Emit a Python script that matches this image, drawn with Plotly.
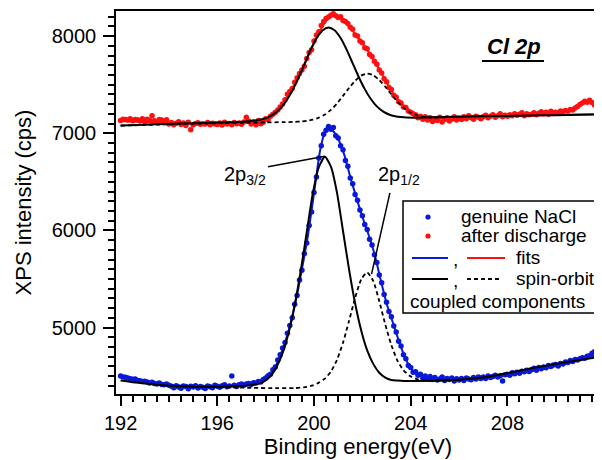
import plotly.graph_objects as go

# ---------------- data ----------------
E_START = 192.0
E_STEP = 0.1

nacl_counts = [
    4502, 4490, 4488, 4480, 4472, 4468, 4470, 4455, 4452, 4445,
    4447, 4440, 4430, 4438, 4425, 4420, 4428, 4415, 4410, 4418,
    4405, 4395, 4380, 4402, 4388, 4375, 4398, 4392, 4370, 4395,
    4388, 4400, 4378, 4392, 4385, 4372, 4398, 4390, 4380, 4405,
    4395, 4385, 4402, 4410, 4390, 4398, 4500, 4405, 4392, 4412,
    4418, 4405, 4420, 4425, 4415, 4432, 4428, 4445, 4440, 4465,
    4480, 4505, 4520, 4565, 4595, 4665, 4720, 4790, 4845, 4940,
    5020, 5100, 5240, 5330, 5490, 5590, 5760, 5870, 6050, 6190,
    6390, 6550, 6745, 6870, 6990, 7030, 7070, 7040, 7060, 6975,
    6950, 6870, 6830, 6720, 6660, 6540, 6480, 6370, 6310, 6210,
    6150, 6060, 6010, 5910, 5850, 5750, 5670, 5540, 5460, 5340,
    5260, 5165, 5110, 5015, 4955, 4860, 4810, 4720, 4680, 4610,
    4590, 4540, 4545, 4510, 4520, 4480, 4500, 4470, 4495, 4465,
    4485, 4460, 4470, 4490, 4455, 4475, 4465, 4480, 4450, 4472,
    4460, 4475, 4455, 4480, 4470, 4462, 4485, 4470, 4490, 4475,
    4490, 4475, 4500, 4485, 4495, 4510, 4490, 4505, 4450, 4515,
    4520, 4510, 4535, 4525, 4540, 4530, 4550, 4545, 4560, 4548,
    4565, 4580, 4560, 4590, 4575, 4595, 4585, 4610, 4600, 4615,
    4620, 4605, 4630, 4625, 4645, 4640, 4660, 4650, 4670, 4665,
    4680, 4690, 4685, 4705, 4710, 4735, 4750,
]

discharge_counts = [
    7130, 7145, 7140, 7135, 7150, 7128, 7142, 7138, 7125, 7148,
    7120, 7145, 7132, 7180, 7128, 7115, 7140, 7135, 7110, 7138,
    7095, 7110, 7088, 7102, 7118, 7090, 7105, 7080, 7112, 7035,
    7085, 7100, 7108, 7092, 7098, 7095, 7110, 7088, 7102, 7096,
    7090, 7105, 7085, 7112, 7095, 7100, 7088, 7110, 7098, 7104,
    7092, 7115, 7165, 7125, 7095, 7118, 7086, 7130, 7098, 7112,
    7150, 7140, 7175, 7195, 7215, 7240, 7270, 7300, 7345, 7400,
    7430, 7460, 7525, 7570, 7615, 7650, 7690, 7770, 7830, 7860,
    7950, 8010, 8045, 8110, 8150, 8180, 8195, 8215, 8230, 8210,
    8190, 8200, 8160, 8150, 8130, 8090, 8070, 8010, 8000, 7950,
    7930, 7880, 7870, 7810, 7790, 7740, 7710, 7650, 7620, 7560,
    7530, 7470, 7450, 7390, 7370, 7325, 7310, 7270, 7265, 7230,
    7215, 7200, 7190, 7160, 7175, 7145, 7170, 7135, 7160, 7120,
    7150, 7130, 7165, 7115, 7140, 7160, 7125, 7145, 7170, 7135,
    7155, 7140, 7170, 7150, 7180, 7160, 7145, 7175, 7165, 7150,
    7170, 7185, 7160, 7175, 7190, 7165, 7180, 7200, 7170, 7185,
    7175, 7190, 7180, 7200, 7185, 7195, 7210, 7180, 7200, 7190,
    7195, 7210, 7190, 7205, 7220, 7200, 7215, 7195, 7225, 7210,
    7215, 7205, 7230, 7220, 7235, 7225, 7245, 7240, 7260, 7275,
    7296, 7310, 7330, 7320, 7340, 7315, 7290, 7275,
]

nacl_energy = [round(E_START + i * E_STEP, 1) for i in range(len(nacl_counts))]
discharge_energy = [round(E_START + i * E_STEP, 1) for i in range(len(discharge_counts))]

# fit envelope, genuine NaCl
nacl_fit_e = [192.0, 192.5, 193.0, 193.5, 194.0, 194.5, 195.0, 195.5, 196.0, 196.5,
              197.0, 197.5, 197.75, 198.0, 198.25, 198.5, 198.75, 199.0, 199.25, 199.5,
              199.75, 200.0, 200.25, 200.45, 200.6, 200.8, 201.0, 201.25, 201.5, 201.75,
              202.0, 202.25, 202.5, 202.75, 203.0, 203.25, 203.5, 203.75, 204.0, 204.25,
              204.5, 205.0, 205.5, 206.0, 206.5, 207.0, 207.5, 208.0, 208.5, 209.0,
              209.5, 210.0, 210.5, 211.0, 211.5, 211.7]
nacl_fit_y = [4495, 4468, 4445, 4425, 4410, 4400, 4395, 4394, 4397, 4402,
              4410, 4425, 4440, 4470, 4530, 4650, 4810, 5010, 5280, 5600,
              5950, 6380, 6820, 7010, 7055, 7020, 6940, 6780, 6550, 6340,
              6140, 5960, 5760, 5500, 5250, 5060, 4870, 4700, 4580, 4520,
              4495, 4478, 4470, 4468, 4472, 4482, 4496, 4515, 4536, 4560,
              4585, 4610, 4637, 4668, 4700, 4714]

# 2p3/2 component, genuine NaCl
nacl_p32_e = [192.0, 192.5, 193.0, 193.5, 194.0, 194.5, 195.0, 195.5, 196.0, 196.5,
              197.0, 197.45, 197.7, 197.95, 198.2, 198.45, 198.7, 198.95, 199.2, 199.45,
              199.7, 199.95, 200.2, 200.45, 200.7, 200.95, 201.2, 201.45, 201.7, 201.95,
              202.2, 202.45, 202.7, 202.95, 203.2, 203.45, 203.7, 204.0, 205.0, 206.0,
              207.0, 208.0, 209.0, 210.0, 211.0, 211.7]
nacl_p32_y = [4455, 4438, 4424, 4412, 4402, 4395, 4391, 4390, 4391, 4394,
              4398, 4410, 4420, 4447, 4500, 4594, 4736, 4947, 5229, 5582,
              5981, 6381, 6652, 6757, 6656, 6389, 5994, 5599, 5250, 4972,
              4764, 4626, 4535, 4485, 4461, 4454, 4449, 4450, 4452, 4463,
              4485, 4530, 4580, 4625, 4665, 4695]

# 2p1/2 component, genuine NaCl
nacl_p12_e = [195.5, 196.5, 197.5, 198.5, 199.2, 199.7, 199.95, 200.2, 200.45, 200.7,
              200.95, 201.2, 201.45, 201.7, 201.95, 202.2, 202.45, 202.7, 202.95, 203.2,
              203.45, 203.7, 203.95, 204.2, 204.45, 204.7, 205.0, 206.0]
nacl_p12_y = [4390, 4384, 4379, 4376, 4377, 4389, 4404, 4433, 4475, 4547,
              4667, 4844, 5069, 5304, 5494, 5567, 5480, 5270, 5030, 4820,
              4660, 4560, 4505, 4475, 4458, 4452, 4452, 4463]

# fit envelope, after discharge
dis_fit_e = [192.0, 192.5, 193.0, 193.5, 194.0, 195.0, 196.0, 197.0, 197.5, 197.75,
             198.0, 198.25, 198.5, 198.75, 199.0, 199.25, 199.5, 199.75, 200.0, 200.25,
             200.5, 200.75, 201.0, 201.25, 201.5, 201.75, 202.0, 202.25, 202.5, 202.75,
             203.0, 203.25, 203.5, 203.75, 204.0, 204.25, 204.5, 205.0, 206.0, 207.0,
             208.0, 209.0, 210.0, 211.0, 211.7]
dis_fit_y = [7125, 7120, 7114, 7108, 7103, 7100, 7102, 7108, 7115, 7124,
             7140, 7170, 7225, 7315, 7420, 7530, 7650, 7790, 7930, 8055,
             8155, 8205, 8200, 8155, 8085, 8005, 7925, 7840, 7745, 7635,
             7525, 7420, 7330, 7265, 7220, 7190, 7175, 7167, 7170, 7174,
             7178, 7183, 7188, 7192, 7195]

# 2p3/2 component, after discharge
dis_p32_e = [192.0, 193.0, 194.0, 195.0, 196.0, 196.5, 197.1, 197.6, 197.85, 198.1,
             198.35, 198.6, 198.85, 199.1, 199.35, 199.6, 199.85, 200.1, 200.35, 200.6,
             200.85, 201.1, 201.35, 201.6, 201.85, 202.1, 202.35, 202.6, 202.85, 203.1,
             203.35, 203.6, 204.1, 205.0, 206.0, 207.0, 208.0, 209.0, 210.0, 211.0, 211.7]
dis_p32_y = [7080, 7088, 7096, 7103, 7110, 7113, 7119, 7131, 7143, 7164,
             7199, 7253, 7332, 7437, 7565, 7708, 7852, 7975, 8057, 8088,
             8060, 7980, 7860, 7719, 7579, 7454, 7352, 7276, 7225, 7193,
             7175, 7166, 7160, 7165, 7170, 7174, 7178, 7182, 7186, 7190, 7193]

# 2p1/2 component, after discharge
dis_p12_e = [192.0, 194.0, 196.0, 197.0, 198.0, 198.7, 199.2, 199.45, 199.7, 199.95,
             200.2, 200.45, 200.7, 200.95, 201.2, 201.45, 201.7, 201.95, 202.2, 202.45,
             202.7, 202.95, 203.2, 203.45, 203.7, 203.95, 204.2, 204.45, 204.7, 204.95,
             205.5, 206.0]
dis_p12_y = [7078, 7092, 7103, 7107, 7111, 7114, 7117, 7121, 7127, 7139,
             7160, 7192, 7241, 7306, 7384, 7466, 7540, 7593, 7613, 7597,
             7548, 7478, 7400, 7326, 7265, 7219, 7190, 7172, 7163, 7160,
             7167, 7170]

x_ticks = [192, 196, 200, 204, 208]
y_ticks = [5000, 6000, 7000, 8000]

# ---------------- styling ----------------
BLUE = "#0a18d8"
RED = "#ff1010"
FONT = "Liberation Sans, Arial, sans-serif"

# the page body has an 8px margin, so the figure is 8px smaller each way
W, H = 594, 452
ML, MR, MT, MB = 108, 2, 3, 66
PW, PH = W - ML - MR, H - MT - MB
OFF = 8


def px(xp):  # page pixel x -> paper
    return (xp - OFF - ML) / PW


def py(yp):  # page pixel y -> paper
    return (H - MB - (yp - OFF)) / PH


fig = go.Figure()

fig.add_trace(go.Scatter(x=nacl_energy, y=nacl_counts, mode="markers",
                         marker=dict(color=BLUE, size=5.5), showlegend=False))
fig.add_trace(go.Scatter(x=discharge_energy, y=discharge_counts, mode="markers",
                         marker=dict(color=RED, size=5.5), showlegend=False))
fig.add_trace(go.Scatter(x=nacl_fit_e, y=nacl_fit_y, mode="lines",
                         line=dict(color=BLUE, width=2, shape="spline", smoothing=0.6),
                         showlegend=False))
fig.add_trace(go.Scatter(x=dis_fit_e, y=dis_fit_y, mode="lines",
                         line=dict(color=RED, width=2, shape="spline", smoothing=0.6),
                         showlegend=False))
for xe, ye in [(nacl_p32_e, nacl_p32_y), (dis_p32_e, dis_p32_y)]:
    fig.add_trace(go.Scatter(x=xe, y=ye, mode="lines",
                             line=dict(color="black", width=2, shape="spline", smoothing=0.6),
                             showlegend=False))
for xe, ye in [(nacl_p12_e, nacl_p12_y), (dis_p12_e, dis_p12_y)]:
    fig.add_trace(go.Scatter(x=xe, y=ye, mode="lines",
                             line=dict(color="black", width=1.8, dash="4px,3px",
                                       shape="spline", smoothing=0.6),
                             showlegend=False))

shapes = []
annotations = []

# pointer lines for component labels
shapes.append(dict(type="line", xref="x", yref="y", x0=198.1, y0=6654, x1=200.45, y1=6763,
                   line=dict(color="black", width=1.5)))
shapes.append(dict(type="line", xref="x", yref="y", x0=203.14, y0=6386, x1=202.38, y1=5550,
                   line=dict(color="black", width=1.5)))
annotations.append(dict(x=196.2, y=6560, xref="x", yref="y", xanchor="left", yanchor="middle",
                        text="2p<sub>3/2</sub>", showarrow=False,
                        font=dict(family=FONT, size=20, color="black")))
annotations.append(dict(x=202.55, y=6560, xref="x", yref="y", xanchor="left", yanchor="middle",
                        text="2p<sub>1/2</sub>", showarrow=False,
                        font=dict(family=FONT, size=20, color="black")))

# Cl 2p label with underline
annotations.append(dict(x=px(514), y=py(46), xref="paper", yref="paper",
                        xanchor="center", yanchor="middle", text="<b><i>Cl 2p</i></b>",
                        showarrow=False, font=dict(family=FONT, size=22, color="black")))
shapes.append(dict(type="line", xref="paper", yref="paper", x0=px(482), x1=px(544),
                   y0=py(61), y1=py(61), line=dict(color="black", width=2)))

# custom legend box
shapes.append(dict(type="rect", xref="paper", yref="paper", x0=px(403), x1=px(598),
                   y0=py(313), y1=py(201), fillcolor="white",
                   line=dict(color="black", width=1.5), layer="above"))
r = 2.6
for yc, col in [(217, BLUE), (236, RED)]:
    shapes.append(dict(type="circle", xref="paper", yref="paper",
                       x0=px(428 - r), x1=px(428 + r), y0=py(yc + r), y1=py(yc - r),
                       fillcolor=col, line=dict(color=col, width=0), layer="above"))
legend_lines = [
    (412, 448, 258, BLUE, "solid"), (467, 505, 258, RED, "solid"),
    (412, 448, 279, "black", "solid"), (467, 500, 279, "black", "4px,3px"),
]
for x0, x1, yc, col, dsh in legend_lines:
    shapes.append(dict(type="line", xref="paper", yref="paper", x0=px(x0), x1=px(x1),
                       y0=py(yc), y1=py(yc), line=dict(color=col, width=2, dash=dsh),
                       layer="above"))
legend_texts = [
    (459, 216, "genuine NaCl"), (459, 236, "after discharge"),
    (451, 259, ","), (514, 257, "fits"),
    (451, 280, ","), (514, 278, "spin-orbit"),
    (408, 301, "coupled components"),
]
for xl, yc, t in legend_texts:
    annotations.append(dict(x=px(xl), y=py(yc), xref="paper", yref="paper",
                            xanchor="left", yanchor="middle", text=t, showarrow=False,
                            font=dict(family=FONT, size=19, color="black")))

fig.update_layout(
    width=W, height=H,
    margin=dict(l=ML, r=MR, t=MT, b=MB, autoexpand=False),
    paper_bgcolor="white", plot_bgcolor="white",
    shapes=shapes, annotations=annotations,
    showlegend=False,
    font=dict(family=FONT, color="black"),
)
fig.update_xaxes(
    automargin=False,
    range=[191.81, 211.83], tickvals=x_ticks, ticks="outside", ticklen=10, tickwidth=1.5,
    tickcolor="black", showline=True, linecolor="black", linewidth=1.5, mirror=True,
    showgrid=False, zeroline=False,
    minor=dict(dtick=0.5, tick0=192, ticks="outside", ticklen=6, tickwidth=1.5, tickcolor="black"),
    tickfont=dict(family=FONT, size=20, color="black"),
    title=dict(text="Binding energy(eV)", font=dict(family=FONT, size=22, color="black"), standoff=4),
)
fig.update_yaxes(
    automargin=False,
    range=[4316, 8258], tickvals=y_ticks, ticks="outside", ticklen=11, tickwidth=1.5,
    tickcolor="black", showline=True, linecolor="black", linewidth=1.5, mirror=True,
    showgrid=False, zeroline=False, ticklabelstandoff=3,
    minor=dict(dtick=100, tick0=4000, ticks="outside", ticklen=6, tickwidth=1.5, tickcolor="black"),
    tickfont=dict(family=FONT, size=20, color="black"),
    title=dict(text="XPS intensity (cps)", font=dict(family=FONT, size=22, color="black"), standoff=14),
)

fig.write_html("out.html")
